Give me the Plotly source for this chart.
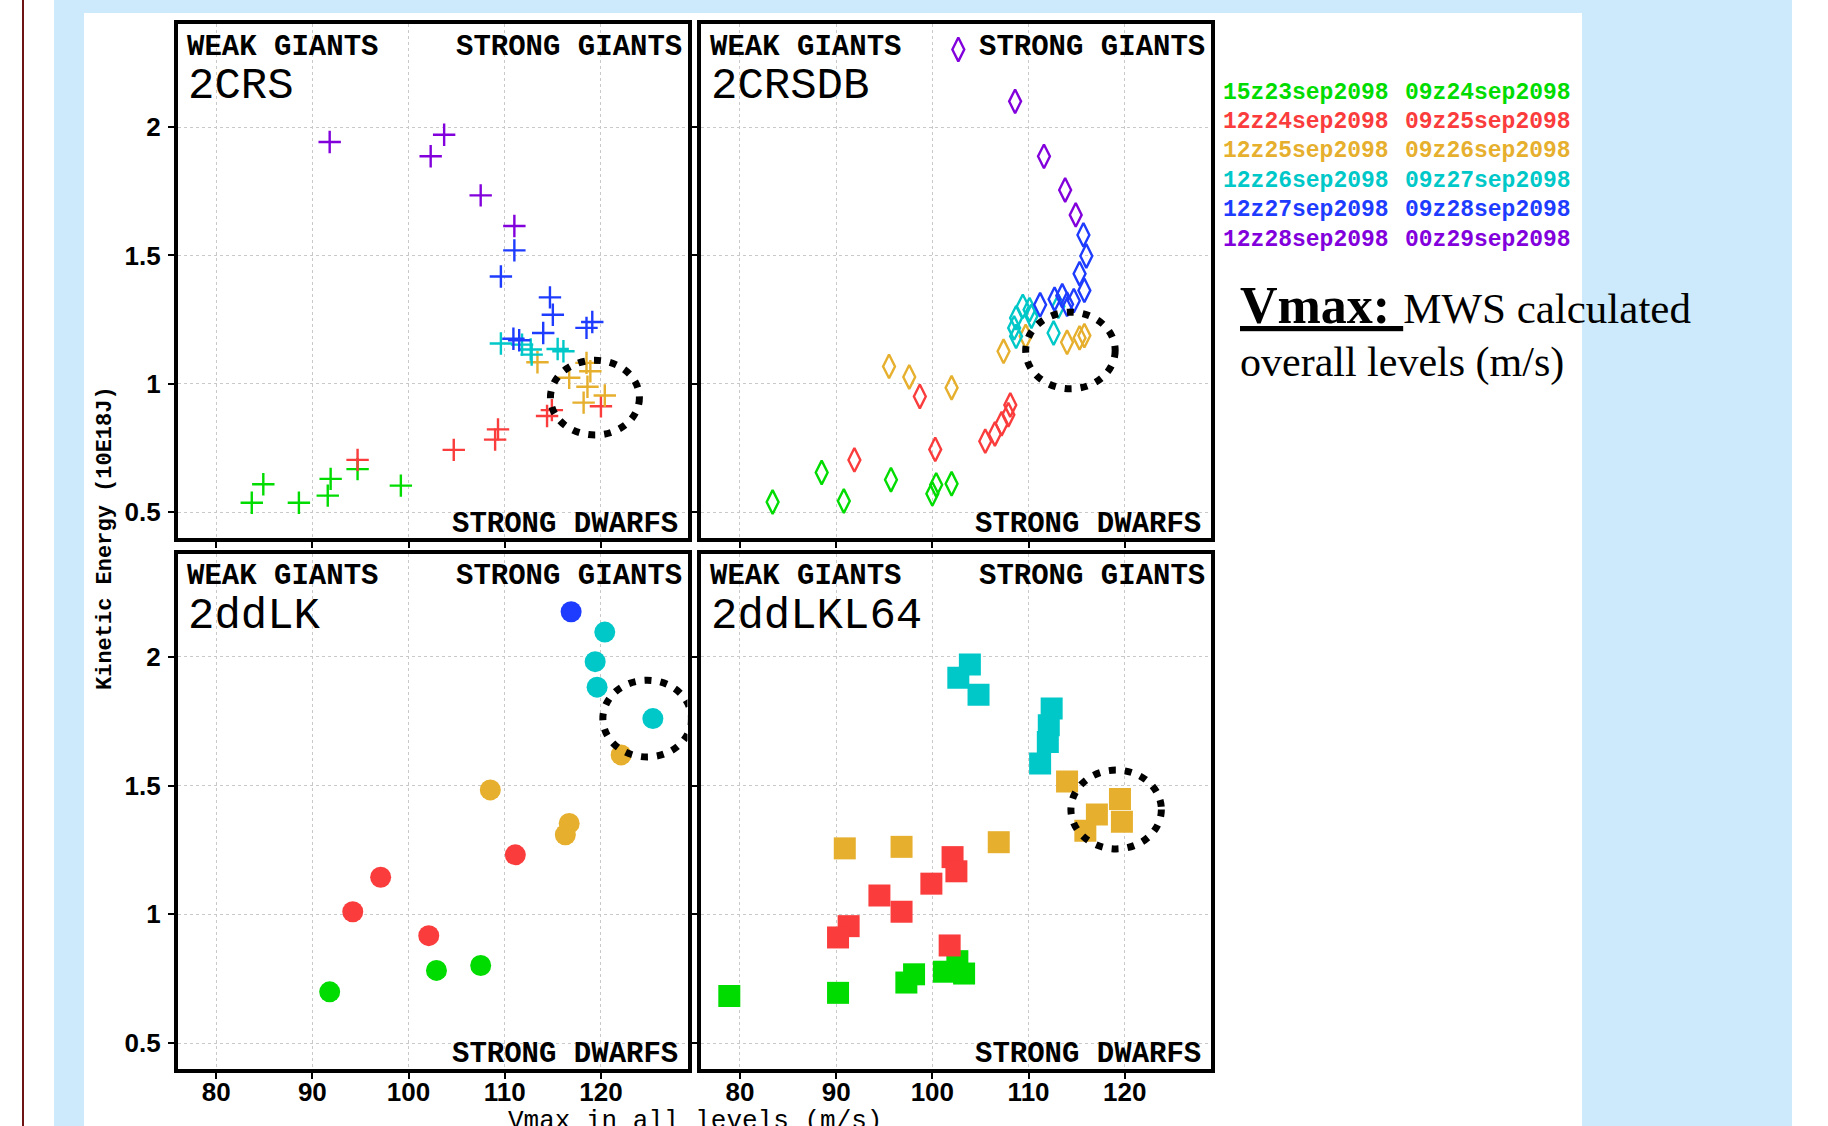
import plotly.graph_objects as go

# ---------------- data ----------------
period_start = ["15z23sep2098", "12z24sep2098", "12z25sep2098", "12z26sep2098", "12z27sep2098", "12z28sep2098"]
period_end = ["09z24sep2098", "09z25sep2098", "09z26sep2098", "09z27sep2098", "09z28sep2098", "00z29sep2098"]
period_colors = ["#00dc00", "#fa3c3c", "#e6af2d", "#00c8c8", "#1e3cff", "#8200dc"]

x_ticks = [80, 90, 100, 110, 120]
x_ticktext = ["80", "90", "100", "110", "120"]
y_ticks = [0.5, 1, 1.5, 2]
y_ticktext = ["0.5", "1", "1.5", "2"]

panel_names = ["2CRS", "2CRSDB", "2ddLK", "2ddLKL64"]

# 2CRS  (period index: 0 green,1 red,2 gold,3 cyan,4 blue,5 purple)
crs_vmax = [94.7, 91.9, 91.6, 88.6, 84.9, 83.7, 99.2,
            120.0, 114.9, 114.4, 109.3, 109.0, 104.7, 94.7,
            113.4, 118.5, 118.9, 116.7, 118.6, 120.4, 118.2,
            109.6, 111.8, 112.7, 112.8, 115.5, 116.1,
            111.0, 109.6, 114.7, 115.0, 114.0, 119.1, 118.5, 110.9, 111.5,
            91.8, 102.3, 103.7, 107.5, 111.0]
crs_ke = [0.668, 0.630, 0.565, 0.537, 0.609, 0.537, 0.604,
          0.913, 0.898, 0.875, 0.823, 0.783, 0.743, 0.704,
          1.084, 1.082, 1.049, 1.024, 0.989, 0.955, 0.927,
          1.157, 1.153, 1.134, 1.114, 1.136, 1.127,
          1.520, 1.418, 1.337, 1.269, 1.198, 1.241, 1.218, 1.176, 1.170,
          1.942, 1.886, 1.970, 1.734, 1.615]
crs_period = [0] * 7 + [1] * 7 + [2] * 7 + [3] * 6 + [4] * 9 + [5] * 5

# 2CRSDB
crsdb_vmax = [83.4, 88.5, 90.8, 95.7, 100.0, 100.4, 102.0,
              98.7, 100.3, 91.9, 105.5, 106.5, 107.2, 107.9, 108.1,
              107.4, 109.7, 114.0, 115.3, 115.8, 95.5, 97.6, 102.0,
              109.4, 110.1, 108.7, 110.3, 108.5, 108.7, 112.6, 113.1,
              115.7, 116.0, 115.3, 115.8, 114.7, 113.5, 112.7, 111.2, 114.0,
              102.7, 108.6, 111.6, 113.8, 114.9]
crsdb_ke = [0.540, 0.655, 0.544, 0.627, 0.572, 0.607, 0.611,
            0.951, 0.745, 0.704, 0.777, 0.805, 0.845, 0.880, 0.918,
            1.127, 1.185, 1.162, 1.179, 1.188, 1.068, 1.027, 0.985,
            1.302, 1.289, 1.257, 1.263, 1.218, 1.185, 1.198, 1.302,
            1.580, 1.498, 1.429, 1.364, 1.324, 1.343, 1.330, 1.308, 1.310,
            2.302, 2.100, 1.886, 1.755, 1.658]
crsdb_period = [0] * 7 + [1] * 8 + [2] * 8 + [3] * 8 + [4] * 9 + [5] * 5

# 2ddLK
dlk_vmax = [102.9, 107.5, 91.8,
            111.1, 97.1, 94.2, 102.1,
            122.1, 108.5, 116.7, 116.3,
            120.4, 119.4, 119.6, 125.4,
            116.9]
dlk_ke = [0.782, 0.801, 0.699,
          1.231, 1.144, 1.010, 0.917,
          1.619, 1.483, 1.353, 1.309,
          2.096, 1.981, 1.882, 1.760,
          2.175]
dlk_period = [0] * 3 + [1] * 4 + [2] * 4 + [3] * 4 + [4] * 1

# 2ddLKL64
dlkl_vmax = [78.9, 90.2, 97.3, 98.1, 101.2, 102.6, 103.3,
             102.1, 102.5, 99.9, 94.5, 96.8, 91.3, 90.2, 101.8,
             114.0, 119.5, 117.1, 119.7, 115.9, 106.9, 96.8, 90.9,
             103.9, 102.7, 104.8, 112.4, 112.1, 112.0, 111.2]
dlkl_ke = [0.683, 0.695, 0.735, 0.767, 0.777, 0.818, 0.770,
           1.222, 1.167, 1.119, 1.073, 1.010, 0.954, 0.910, 0.879,
           1.516, 1.448, 1.388, 1.359, 1.324, 1.280, 1.262, 1.256,
           1.970, 1.919, 1.853, 1.799, 1.734, 1.669, 1.586]
dlkl_period = [0] * 7 + [1] * 8 + [2] * 8 + [3] * 7

# highlighted (dotted ellipse) regions: [x0, x1, y0, y1]
ring_crs = [114.75, 124.0, 0.801, 1.092]
ring_crsdb = [109.7, 119.0, 0.981, 1.279]
ring_dlk = [120.2, 129.4, 1.611, 1.909]
ring_dlkl = [114.4, 123.8, 1.254, 1.560]

# ---------------- layout helpers ----------------
W, H = 1828, 1126


def fx(px):
    return px / W


def fy(py):
    return 1 - py / H


MONO = "Liberation Mono"
panels = [
    # (name, vmax, ke, period, symbol, size, ring, box(left,right,top,bottom))
    (panel_names[0], crs_vmax, crs_ke, crs_period, "cross-thin-open", 16, ring_crs, (177.7, 687.5, 24.3, 538.0)),
    (panel_names[1], crsdb_vmax, crsdb_ke, crsdb_period, "diamond-tall-open", 17, ring_crsdb, (701.4, 1211.4, 24.3, 538.0)),
    (panel_names[2], dlk_vmax, dlk_ke, dlk_period, "circle", 21, ring_dlk, (177.7, 687.5, 553.8, 1068.8)),
    (panel_names[3], dlkl_vmax, dlkl_ke, dlkl_period, "square", 22, ring_dlkl, (701.4, 1211.4, 553.8, 1068.8)),
]

fig = go.Figure()
shapes = []
annotations = []

# background decoration
BLUE = "#cceafb"
shapes += [
    dict(type="rect", xref="paper", yref="paper", x0=fx(54), x1=fx(1792), y0=fy(13), y1=1,
         fillcolor=BLUE, line_width=0, layer="below"),
    dict(type="rect", xref="paper", yref="paper", x0=fx(54), x1=fx(84), y0=0, y1=fy(13),
         fillcolor=BLUE, line_width=0, layer="below"),
    dict(type="rect", xref="paper", yref="paper", x0=fx(1582), x1=fx(1792), y0=0, y1=fy(13),
         fillcolor=BLUE, line_width=0, layer="below"),
    dict(type="line", xref="paper", yref="paper", x0=fx(23), x1=fx(23), y0=0, y1=1,
         line=dict(color="#6e1414", width=2), layer="below"),
]

tickfont = dict(family="Liberation Sans", size=26, color="black", weight="bold")

for i, (name, xs, ys, per, sym, msize, ring, box) in enumerate(panels):
    k = "" if i == 0 else str(i + 1)
    xa, ya = "x" + k, "y" + k
    left, right, top, bottom = box
    is_open = sym.endswith("open")
    for g in range(len(period_colors)):
        gx = [x for x, p in zip(xs, per) if p == g]
        gy = [y for y, p in zip(ys, per) if p == g]
        if not gx:
            continue
        c = period_colors[g]
        marker = dict(symbol=sym, size=msize, color=c,
                      line=dict(width=2.4 if is_open else 0, color=c))
        fig.add_trace(go.Scatter(x=gx, y=gy, mode="markers", marker=marker,
                                 xaxis=xa, yaxis=ya, showlegend=False,
                                 name=period_start[g] + " " + period_end[g]))
    bottom_row = i >= 2
    left_col = i % 2 == 0
    fig.layout["xaxis" + k] = dict(
        domain=[fx(left), fx(right)], anchor=ya, range=[76, 129],
        tickvals=x_ticks, ticktext=x_ticktext, showticklabels=bottom_row,
        ticks="outside", ticklen=6, tickwidth=2, tickcolor="black",
        showline=True, mirror=True, linecolor="black", linewidth=3.5,
        showgrid=True, gridcolor="#c9c9c9", griddash="dot", gridwidth=1,
        zeroline=False, ticklabelstandoff=-9, tickfont=tickfont)
    fig.layout["yaxis" + k] = dict(
        domain=[fy(bottom), fy(top)], anchor=xa, range=[0.4, 2.4],
        tickvals=y_ticks, ticktext=y_ticktext, showticklabels=left_col,
        ticks="outside", ticklen=6, tickwidth=2, tickcolor="black",
        showline=True, mirror=True, linecolor="black", linewidth=3.5,
        showgrid=True, gridcolor="#c9c9c9", griddash="dot", gridwidth=1,
        zeroline=False, ticklabelstandoff=2, tickfont=tickfont)
    # dotted ring
    shapes.append(dict(type="circle", xref=xa, yref=ya, x0=ring[0], x1=ring[1], y0=ring[2], y1=ring[3],
                       line=dict(color="black", width=7, dash="7px,9px"), layer="above"))
    # quadrant labels
    annotations += [
        dict(text="<b>WEAK GIANTS</b>", x=fx(left + 7), y=fy(top + 23), xanchor="left", yanchor="middle",
             font=dict(family=MONO, size=29, color="black")),
        dict(text="<b>STRONG GIANTS</b>", x=fx(right - 4), y=fy(top + 23), xanchor="right", yanchor="middle",
             font=dict(family=MONO, size=29, color="black")),
        dict(text="<b>STRONG DWARFS</b>", x=fx(right - 8), y=fy(bottom - 14), xanchor="right", yanchor="middle",
             font=dict(family=MONO, size=29, color="black")),
        dict(text=name, x=fx(left + 8), y=fy(top + 62), xanchor="left", yanchor="middle",
             font=dict(family=MONO, size=44, color="black")),
    ]

# period legend (two columns)
for g in range(len(period_colors)):
    yc = 92.6 + 29.4 * g
    for col_x, txt in ((1221, period_start[g]), (1403, period_end[g])):
        annotations.append(dict(text="<b>" + txt + "</b>", x=fx(col_x), y=fy(yc), xanchor="left", yanchor="middle",
                                font=dict(family=MONO, size=23, color=period_colors[g])))

# Vmax note
annotations += [
    dict(text="<b><u>Vmax: </u></b><span style='font-size:43px'>MWS calculated</span>",
         x=fx(1238), y=fy(336), xanchor="left", yanchor="bottom",
         font=dict(family="Liberation Serif", size=52, color="black")),
    dict(text="overall levels (m/s)", x=fx(1238), y=fy(388), xanchor="left", yanchor="bottom",
         font=dict(family="Liberation Serif", size=42, color="black")),
]

# axis titles
annotations += [
    dict(text="<b>Kinetic Energy (10E18J)</b>", x=fx(105), y=fy(538), xanchor="center", yanchor="middle",
         textangle=-90, font=dict(family=MONO, size=22, color="black")),
    dict(text="Vmax in all levels (m/s)", x=fx(695), y=fy(1104), xanchor="center", yanchor="top",
         font=dict(family=MONO, size=26, color="black")),
]
for a in annotations:
    a.setdefault("xref", "paper")
    a.setdefault("yref", "paper")
    a.setdefault("showarrow", False)

fig.update_layout(width=W, height=H, margin=dict(l=0, r=0, t=0, b=0),
                  paper_bgcolor="white", plot_bgcolor="rgba(0,0,0,0)",
                  shapes=shapes, annotations=annotations, showlegend=False)

fig.write_html("out.html")
